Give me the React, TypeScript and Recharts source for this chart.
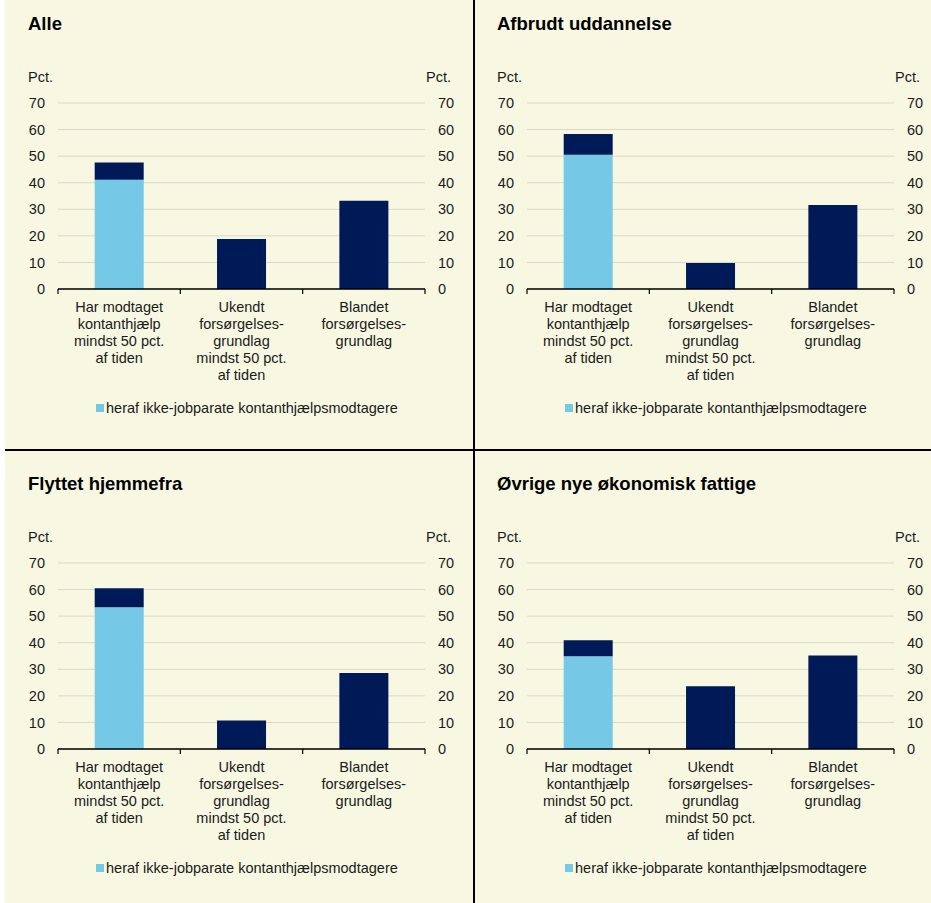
import React from "react";
import { ComposedChart, Bar, Line, XAxis, YAxis, CartesianGrid, Legend } from "recharts";

const categories = [
  "Har modtaget kontanthjælp mindst 50 pct. af tiden",
  "Ukendt forsørgelsesgrundlag mindst 50 pct. af tiden",
  "Blandet forsørgelsesgrundlag",
];
const categoryLines = [
  ["Har modtaget", "kontanthjælp", "mindst 50 pct.", "af tiden"],
  ["Ukendt", "forsørgelses-", "grundlag", "mindst 50 pct.", "af tiden"],
  ["Blandet", "forsørgelses-", "grundlag"],
];
const yTicks = [0, 10, 20, 30, 40, 50, 60, 70];
const legendLabel = "heraf ikke-jobparate kontanthjælpsmodtagere";

const panelTitles = ["Alle", "Afbrudt uddannelse", "Flyttet hjemmefra", "Øvrige nye økonomisk fattige"];

// total share and "heraf ikke-jobparate" share per category
const alleTotal = [47.6, 18.8, 33.2];
const alleIkke = [41.1, 0, 0];
const afbrudtTotal = [58.3, 9.8, 31.6];
const afbrudtIkke = [50.5, 0, 0];
const flyttetTotal = [60.5, 10.7, 28.6];
const flyttetIkke = [53.3, 0, 0];
const oevrigeTotal = [40.9, 23.6, 35.2];
const oevrigeIkke = [34.9, 0, 0];

const FONT = '"Liberation Sans", Arial, sans-serif';
const LIGHT = "#75C8E6";
const DARK = "#001A57";
const BG = "#F8F8E2";
const TEXT = "#1a1a1a";
const FS = 14.5;

const CHART_W = 465;
const CHART_H = 443;
const LEFT_W = 58;
const RIGHT_W = 40;
const BAND = (CHART_W - LEFT_W - RIGHT_W) / 3;

function buildRows(total: number[], ikke: number[]) {
  return categories.map((c, i) => ({
    category: c,
    idx: i,
    total: total[i],
    ikke: ikke[i],
    rest: +(total[i] - ikke[i]).toFixed(2),
  }));
}

const CatTick = (props: any) => {
  const { x, y, index } = props;
  const lines = categoryLines[index] || [];
  const left = x - BAND / 2;
  const right = x + BAND / 2;
  return (
    <g>
      <line x1={left} y1={y} x2={left} y2={y + 5} stroke="#000" strokeWidth={1.2} />
      {index === categories.length - 1 && (
        <line x1={right} y1={y} x2={right} y2={y + 5} stroke="#000" strokeWidth={1.2} />
      )}
      <text x={x} y={y} textAnchor="middle" fontFamily={FONT} fontSize={FS} fill={TEXT}>
        {lines.map((l: string, i: number) => (
          <tspan key={i} x={x} dy={i === 0 ? 23 : 17}>
            {l}
          </tspan>
        ))}
      </text>
    </g>
  );
};

const LegendContent = () => (
  <div style={{ display: "flex", alignItems: "center", fontFamily: FONT, fontSize: FS, color: TEXT, lineHeight: "18px", whiteSpace: "nowrap" }}>
    <span style={{ display: "inline-block", width: 8, height: 8, background: LIGHT, marginRight: 2 }} />
    <span>{legendLabel}</span>
  </div>
);

function Panel({ title, rows, left, top }: { title: string; rows: any[]; left: number; top: number }) {
  return (
    <div style={{ position: "absolute", left, top, width: CHART_W, height: CHART_H }}>
      <ComposedChart
        width={CHART_W}
        height={CHART_H}
        data={rows}
        margin={{ top: 103, right: 0, left: 0, bottom: 0 }}
        barCategoryGap="30%"
      >
        <CartesianGrid vertical={false} stroke="#D8D8C8" strokeWidth={1} yAxisId="left" />
        <XAxis
          dataKey="category"
          interval={0}
          height={154}
          tickSize={0}
          tickMargin={0}
          tickLine={false}
          axisLine={{ stroke: "#000", strokeWidth: 1.5 }}
          tick={<CatTick />}
        />
        <YAxis
          yAxisId="left"
          width={LEFT_W}
          domain={[0, 70]}
          ticks={yTicks}
          allowDataOverflow
          axisLine={false}
          tickLine={false}
          tickSize={6}
          tickMargin={7}
          tick={{ fontFamily: FONT, fontSize: FS, fill: TEXT }}
        />
        <YAxis
          yAxisId="right"
          orientation="right"
          width={RIGHT_W}
          domain={[0, 70]}
          ticks={yTicks}
          allowDataOverflow
          axisLine={false}
          tickLine={false}
          tickSize={6}
          tickMargin={7}
          tick={{ fontFamily: FONT, fontSize: FS, fill: TEXT }}
        />
        <Legend
          layout="horizontal"
          verticalAlign="middle"
          wrapperStyle={{ position: "absolute", top: 399, left: 96, width: "auto", height: 18 }}
          content={<LegendContent />}
        />
        <Bar yAxisId="left" dataKey="ikke" name={legendLabel} stackId="s" fill={LIGHT} isAnimationActive={false} />
        <Bar yAxisId="left" dataKey="rest" name="øvrige" stackId="s" fill={DARK} legendType="none" isAnimationActive={false} />
        <Line
          yAxisId="right"
          dataKey="total"
          stroke="none"
          strokeWidth={0}
          dot={false}
          activeDot={false}
          legendType="none"
          isAnimationActive={false}
        />
      </ComposedChart>
      <div style={{ position: "absolute", left: 28, top: 15, fontFamily: FONT, fontSize: 18.5, fontWeight: "bold", color: "#000", lineHeight: "18.5px", whiteSpace: "nowrap" }}>
        {title}
      </div>
      <div style={{ position: "absolute", left: 28, top: 70, fontFamily: FONT, fontSize: FS, color: TEXT, lineHeight: "14px" }}>Pct.</div>
      <div style={{ position: "absolute", left: 426, top: 70, fontFamily: FONT, fontSize: FS, color: TEXT, lineHeight: "14px" }}>Pct.</div>
    </div>
  );
}

export default function App() {
  return (
    <div style={{ position: "absolute", left: 0, top: 0, width: 931, height: 903, background: "#fff", overflow: "hidden" }}>
      <div style={{ position: "absolute", left: 5, top: 0, width: 926, height: 903, background: BG }} />
      <Panel title={panelTitles[0]} rows={buildRows(alleTotal, alleIkke)} left={0} top={0} />
      <Panel title={panelTitles[1]} rows={buildRows(afbrudtTotal, afbrudtIkke)} left={469} top={0} />
      <Panel title={panelTitles[2]} rows={buildRows(flyttetTotal, flyttetIkke)} left={0} top={460} />
      <Panel title={panelTitles[3]} rows={buildRows(oevrigeTotal, oevrigeIkke)} left={469} top={460} />
      <div style={{ position: "absolute", left: 5, top: 449, width: 926, height: 2, background: "#000" }} />
      <div style={{ position: "absolute", left: 473, top: 0, width: 2, height: 903, background: "#000" }} />
    </div>
  );
}
